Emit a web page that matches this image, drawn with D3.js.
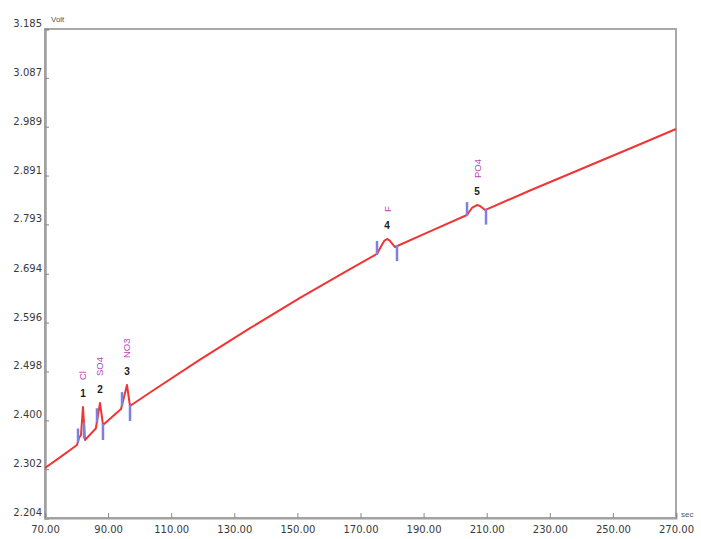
<!DOCTYPE html>
<html>
<head>
<meta charset="utf-8">
<script src="https://cdn.jsdelivr.net/npm/d3@7"></script>
<style>
body { margin: 0; background: #fff; }
svg { display: block; font-family: "Liberation Sans", Arial, sans-serif; }
</style>
</head>
<body>
<div id="chart"></div>
<script>
// signal trace (sec, Volt)
var times = [70.00, 74.75, 80.14, 80.78, 81.41, 82.04, 82.68, 86.10, 87.43, 88.38,
             94.10, 95.99, 96.94, 103.28, 119.13, 134.98, 150.82, 166.67, 175.23,
             176.80, 177.60, 178.40, 179.20, 180.94, 192.03, 203.76, 205.30, 206.93, 207.90, 209.46,
             223.72, 239.57, 255.42, 270.00];
var volts = [2.3043, 2.3255, 2.3504, 2.3645, 2.3705, 2.4267, 2.3605, 2.3835, 2.4347, 2.3906,
             2.4226, 2.4708, 2.4287, 2.4558, 2.5216, 2.5848, 2.6455, 2.7035, 2.7338,
             2.7520, 2.7605, 2.7637, 2.7610, 2.7476, 2.7789, 2.8118, 2.8260, 2.8319, 2.8300, 2.8218,
             2.8610, 2.9031, 2.9452, 2.9843];

var yTickLabels = ["2.204", "2.302", "2.400", "2.498", "2.596", "2.694", "2.793", "2.891", "2.989", "3.087", "3.185"];
var xTickLabels = ["70.00", "90.00", "110.00", "130.00", "150.00", "170.00", "190.00", "210.00", "230.00", "250.00", "270.00"];

// peaks
var peakNums  = ["1", "2", "3", "4", "5"];
var peakNames = ["Cl", "SO4", "NO3", "F", "PO4"];
var peakTimes = [82.04, 87.43, 95.99, 178.40, 206.93];
var peakStart = [80.46, 86.48, 94.41, 175.23, 203.76];
var peakEnd   = [82.36, 88.38, 96.94, 181.57, 209.78];

var W = 701, H = 539;
var padL = 45, padT = 29, padR = 676, padB = 518;

var svg = d3.select("#chart").append("svg")
    .attr("width", W)
    .attr("height", H);

var x = d3.scaleLinear().domain([70, 270]).range([padL, padR]);
var y = d3.scaleLinear().domain([2.204, 3.185]).range([padB, padT]);

var data = times.map(function(t, i) { return [t, volts[i]]; });
function voltAt(t) {
    var i = d3.bisector(function(d) { return d[0]; }).left(data, t);
    if (i <= 0) return data[0][1];
    if (i >= data.length) return data[data.length - 1][1];
    var a = data[i - 1], b = data[i];
    return a[1] + (b[1] - a[1]) * (t - a[0]) / (b[0] - a[0]);
}

// frame
svg.append("rect")
    .attr("x", padL).attr("y", padT)
    .attr("width", padR - padL).attr("height", padB - padT)
    .attr("fill", "none")
    .attr("stroke", "#a8a8a8")
    .attr("stroke-width", 2);

// y axis
var yAxis = d3.axisLeft(y)
    .tickValues(yTickLabels.map(Number))
    .tickFormat(function(d, i) { return yTickLabels[i]; })
    .tickSize(-4)
    .tickPadding(3);
var gy = svg.append("g").attr("transform", "translate(" + padL + ",0)").call(yAxis);
gy.select(".domain").attr("stroke", "#a0a0a0").attr("stroke-width", 2.5);
gy.selectAll(".tick line").attr("stroke", "#888");
gy.selectAll(".tick text")
    .attr("dy", "-0.25em")
    .attr("fill", "#3a3a3a")
    .style("font-family", "'DejaVu Sans', sans-serif")
    .style("font-size", "10px");

// x axis
var xAxis = d3.axisBottom(x)
    .tickValues(xTickLabels.map(Number))
    .tickFormat(function(d, i) { return xTickLabels[i]; })
    .tickSize(-5)
    .tickPadding(8);
var gx = svg.append("g").attr("transform", "translate(0," + padB + ")").call(xAxis);
gx.select(".domain").attr("stroke", "#a0a0a0").attr("stroke-width", 2);
gx.selectAll(".tick line").attr("stroke", "#888");
gx.selectAll(".tick text")
    .attr("fill", "#3a3a3a")
    .style("font-family", "'DejaVu Sans', sans-serif")
    .style("font-size", "10px");

// unit labels
svg.append("text").attr("x", padL + 6).attr("y", padT - 7)
    .attr("fill", "#555").style("font-size", "8px").text("Volt");
svg.append("text").attr("x", padR + 5).attr("y", padB - 1)
    .attr("fill", "#555").style("font-size", "8px").text("sec");

// signal line
var line = d3.line()
    .x(function(d) { return x(d[0]); })
    .y(function(d) { return y(d[1]); });

svg.append("path")
    .datum(data)
    .attr("d", line)
    .attr("fill", "none")
    .attr("stroke", "#f03535")
    .attr("stroke-width", 2)
    .attr("stroke-linejoin", "round");

// peak start / end markers
svg.selectAll(".mstart")
    .data(peakStart)
  .enter().append("line")
    .attr("class", "mstart")
    .attr("x1", function(d) { return x(d); })
    .attr("x2", function(d) { return x(d); })
    .attr("y1", function(d) { return y(voltAt(d)) + 1; })
    .attr("y2", function(d) { return y(voltAt(d)) - 13; })
    .attr("stroke", "#7f7fe0")
    .attr("stroke-width", 2.5);

svg.selectAll(".mend")
    .data(peakEnd)
  .enter().append("line")
    .attr("class", "mend")
    .attr("x1", function(d) { return x(d); })
    .attr("x2", function(d) { return x(d); })
    .attr("y1", function(d) { return y(voltAt(d)) - 1; })
    .attr("y2", function(d) { return y(voltAt(d)) + 15; })
    .attr("stroke", "#7f7fe0")
    .attr("stroke-width", 2.5);

// peak numbers and names
svg.selectAll(".pnum")
    .data(peakTimes)
  .enter().append("text")
    .attr("class", "pnum")
    .attr("x", function(d) { return x(d); })
    .attr("y", function(d) { return y(voltAt(d)) - 10; })
    .attr("text-anchor", "middle")
    .attr("fill", "#1a1a1a")
    .style("font-size", "10px")
    .style("font-weight", "bold")
    .text(function(d, i) { return peakNums[i]; });

svg.selectAll(".pname")
    .data(peakTimes)
  .enter().append("text")
    .attr("class", "pname")
    .attr("transform", function(d) {
        return "translate(" + (x(d) + 3.5) + "," + (y(voltAt(d)) - 27) + ") rotate(-90)";
    })
    .attr("text-anchor", "start")
    .attr("fill", "#bb44bb")
    .style("font-size", "9.5px")
    .text(function(d, i) { return peakNames[i]; });
</script>
</body>
</html>
